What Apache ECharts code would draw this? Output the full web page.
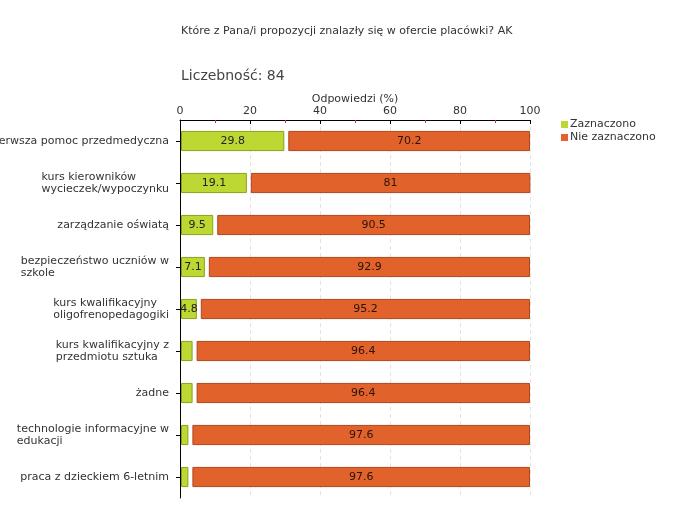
<!DOCTYPE html>
<html><head><meta charset="utf-8">
<script src="https://cdn.jsdelivr.net/npm/echarts@6/dist/echarts.min.js"></script>
<style>html,body{margin:0;padding:0;background:#fff}#c{width:680px;height:520px}</style>
</head><body><div id="c"></div>
<script>
const categories = [
  'pierwsza pomoc przedmedyczna',
  'kurs kierowników\nwycieczek/wypoczynku',
  'zarządzanie oświatą',
  'bezpieczeństwo uczniów w\nszkole',
  'kurs kwalifikacyjny\noligofrenopedagogiki',
  'kurs kwalifikacyjny z\nprzedmiotu sztuka',
  'żadne',
  'technologie informacyjne w\nedukacji',
  'praca z dzieckiem 6-letnim'
];
const zaznaczono = [29.8, 19.1, 9.5, 7.1, 4.8, 3.6, 3.6, 2.4, 2.4];
const nieZaznaczono = [70.2, 81, 90.5, 92.9, 95.2, 96.4, 96.4, 97.6, 97.6];
const seriesNames = ['Zaznaczono', 'Nie zaznaczono'];
const xTicks = [0, 20, 40, 60, 80, 100];

const FONT = 'DejaVu Sans';
const GREEN = '#bdd733', GREEN_B = '#8ba01e';
const ORANGE = '#e2622c', ORANGE_B = '#b0461a';

function makeRender(isFirst) {
  return function (params, api) {
    const idx = api.value(0);
    const start = api.value(1);
    const end = api.value(2);
    const val = api.value(3);
    const p0 = api.coord([start, idx]);
    const p1 = api.coord([end, idx]);
    const h = api.size([0, 1])[1] * 0.48;
    let x0 = p0[0] + (isFirst ? 1 : 4);
    let x1 = p1[0];
    const w = Math.max(x1 - x0, 1);
    const children = [{
      type: 'rect',
      shape: { x: x0 + 0.5, y: p0[1] - h / 2 + 0.5, width: w - 1, height: h - 1 },
      style: { fill: isFirst ? GREEN : ORANGE, stroke: isFirst ? GREEN_B : ORANGE_B, lineWidth: 1 }
    }];
    if (w >= 14) {
      children.push({
        type: 'text',
        style: {
          text: String(val), x: x0 + w / 2, y: p0[1],
          align: 'center', verticalAlign: 'middle',
          font: '11px "' + FONT + '"', fill: isFirst ? '#222' : '#2a1208'
        }
      });
    }
    return { type: 'group', children: children };
  };
}

const greenData = categories.map((c, i) => [i, 0, zaznaczono[i], zaznaczono[i]]);
const orangeData = categories.map((c, i) => [i, zaznaczono[i], zaznaczono[i] + nieZaznaczono[i], nieZaznaczono[i]]);

const chart = echarts.init(document.getElementById('c'), null, { renderer: 'canvas' });
chart.setOption({
  animation: false,
  backgroundColor: '#fff',
  textStyle: { fontFamily: FONT },
  title: [
    { text: 'Które z Pana/i propozycji znalazły się w ofercie placówki? AK', left: 176, top: 21,
      textStyle: { fontSize: 11, fontWeight: 'normal', color: '#333', fontFamily: FONT } },
    { text: 'Liczebność: 84', left: 176, top: 64,
      textStyle: { fontSize: 14, fontWeight: 'normal', color: '#444', fontFamily: FONT } }
  ],
  legend: {
    orient: 'vertical', left: 556, top: 114, itemWidth: 7, itemHeight: 7, itemGap: 2,
    icon: 'rect', textStyle: { fontSize: 11, color: '#333', fontFamily: FONT, padding: [0, 0, 0, -3] },
    data: seriesNames
  },
  grid: { left: 180, top: 120, right: 150, bottom: 22, containLabel: false, outerBoundsMode: 'none' },
  xAxis: {
    type: 'value', position: 'top', min: 0, max: 100, interval: 20,
    name: 'Odpowiedzi (%)', nameLocation: 'middle', nameGap: 15, nameMoveOverlap: false,
    nameTextStyle: { fontSize: 11, color: '#333', fontFamily: FONT },
    axisLine: { show: true, lineStyle: { color: '#000', width: 1 } },
    axisTick: { show: true, inside: true, length: 4, lineStyle: { color: '#000' } },
    minorTick: { show: true, splitNumber: 2, length: 3, lineStyle: { color: '#c0392b' } },
    axisLabel: { fontSize: 11, color: '#333', margin: 3, fontFamily: FONT,
      formatter: v => xTicks.includes(v) ? String(v) : '' },
    splitLine: { show: true, lineStyle: { color: '#e3e3e3', type: [4, 3] } }
  },
  yAxis: {
    type: 'category', data: categories, inverse: true,
    axisLine: { show: true, lineStyle: { color: '#000', width: 1 } },
    axisTick: { show: true, alignWithLabel: true, length: 4, lineStyle: { color: '#000' } },
    axisLabel: {
      margin: 11, color: '#333', fontSize: 11, fontFamily: FONT,
      formatter: v => '{a|' + v + '}',
      rich: { a: { align: 'left', fontSize: 11, lineHeight: 12, color: '#333', fontFamily: FONT } }
    },
    splitLine: { show: false }
  },
  series: [
    { name: seriesNames[0], type: 'custom', renderItem: makeRender(true),
      itemStyle: { color: GREEN }, encode: { x: [1, 2], y: 0 }, data: greenData },
    { name: seriesNames[1], type: 'custom', renderItem: makeRender(false),
      itemStyle: { color: ORANGE }, encode: { x: [1, 2], y: 0 }, data: orangeData }
  ]
});
</script></body></html>
